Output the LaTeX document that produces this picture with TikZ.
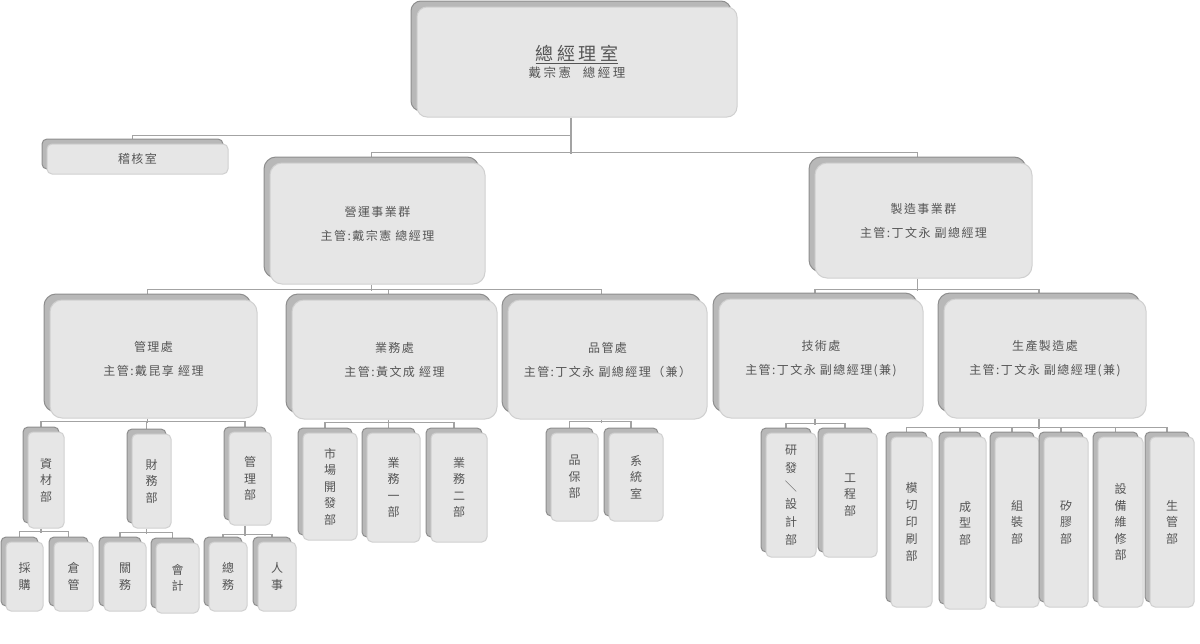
\documentclass[tikz,border=0pt]{standalone}
\usepackage{fontspec}
\setmainfont{Noto Sans CJK TC}
\newfontfamily\cjh[LetterSpace=12]{Noto Sans CJK TC}
\newfontfamily\cjt[LetterSpace=20]{Noto Sans CJK TC}
\usetikzlibrary{shadows,backgrounds}
\definecolor{backc}{HTML}{B8B8B8}
\definecolor{backd}{HTML}{8E8E8E}
\definecolor{frontc}{HTML}{E6E6E6}
\definecolor{frontd}{HTML}{D0D0D0}
\definecolor{linec}{HTML}{A3A3A3}
\definecolor{txt}{HTML}{555555}
\tikzset{
  base/.style={rectangle, fill=frontc, draw=frontd, line width=1pt, text=txt, inner sep=0pt, align=center},
  bigbox/.style={base, rounded corners=12pt,
    copy shadow={shadow xshift=-6pt, shadow yshift=6pt, fill=backc, draw=backd},
    font=\cjh\fontsize{12}{24}\selectfont},
  topbox/.style={base, rounded corners=10pt,
    copy shadow={shadow xshift=-6pt, shadow yshift=6pt, fill=backc, draw=backd}},
  midbox/.style={base, rounded corners=5pt,
    copy shadow={shadow xshift=-5pt, shadow yshift=5pt, fill=backc, draw=backd},
    font=\cjh\fontsize{12}{16}\selectfont},
  smallbox/.style={base, rounded corners=5pt,
    copy shadow={shadow xshift=-5pt, shadow yshift=5pt, fill=backc, draw=backd},
    font=\fontsize{12}{16.5}\selectfont},
  conn/.style={draw=linec, line width=1.3pt},
}
\begin{document}
\begin{tikzpicture}[x=1pt,y=-1pt]
\useasboundingbox (0,0) rectangle (1200,643);
% level 0
\node[topbox, minimum width=320pt, minimum height=110pt] (top) at (577,62)
  {{\cjt\fontsize{18}{22}\selectfont\underline{總經理室}}\\[3pt]{\cjt\fontsize{12.5}{14}\selectfont 戴宗憲\hspace{0.5em} 總經理}};
\node[midbox, minimum width=181pt, minimum height=30pt] (audit) at (137.5,159) {稽核室};
% level 1
\node[bigbox, minimum width=215pt, minimum height=121pt] (ops) at (377.5,223.5) {營運事業群\\主管:戴宗憲 總經理};
\node[bigbox, minimum width=217pt, minimum height=115pt] (mfg) at (923.5,220.5) {製造事業群\\主管:丁文永 副總經理};
% level 2
\node[bigbox, minimum width=207pt, minimum height=118pt] (adm) at (153.5,359) {管理處\\主管:戴昆享 經理};
\node[bigbox, minimum width=205pt, minimum height=119pt] (sales) at (394.5,359.5) {業務處\\主管:黃文成 經理};
\node[bigbox, minimum width=199pt, minimum height=119pt] (qa) at (607.5,359.5) {品管處\\主管:丁文永 副總經理（兼）};
\node[bigbox, minimum width=204pt, minimum height=119pt] (tech) at (821,358.5) {技術處\\主管:丁文永 副總經理(兼)};
\node[bigbox, minimum width=202pt, minimum height=119pt] (prod) at (1045,358.5) {生產製造處\\主管:丁文永 副總經理(兼)};
% level 3 under adm
\node[smallbox, minimum width=36pt, minimum height=96pt] (mat) at (46,480) {資\\材\\部};
\node[smallbox, minimum width=39pt, minimum height=94pt] (fin) at (151.5,481) {財\\務\\部};
\node[smallbox, minimum width=42pt, minimum height=93pt] (mgt) at (250,478.5) {管\\理\\部};
% level 4
\node[smallbox, minimum width=37pt, minimum height=69pt] (pur) at (24.5,576.5) {採\\購};
\node[smallbox, minimum width=39pt, minimum height=69pt] (whs) at (73.5,576.5) {倉\\管};
\node[smallbox, minimum width=42pt, minimum height=69pt] (cus) at (125,576.5) {關\\務};
\node[smallbox, minimum width=43pt, minimum height=70pt] (acc) at (177.5,578) {會\\計};
\node[smallbox, minimum width=38pt, minimum height=69pt] (gen) at (228,576.5) {總\\務};
\node[smallbox, minimum width=38pt, minimum height=69pt] (hr) at (277,576.5) {人\\事};
% under sales
\node[smallbox, minimum width=54pt, minimum height=107pt] (mkt) at (330,486.5) {市\\場\\開\\發\\部};
\node[smallbox, minimum width=53pt, minimum height=109pt] (s1) at (393.5,487.5) {業\\務\\一\\部};
\node[smallbox, minimum width=56pt, minimum height=109pt] (s2) at (459,487.5) {業\\務\\二\\部};
% under qa
\node[smallbox, minimum width=47pt, minimum height=88pt] (qad) at (574.5,477) {品\\保\\部};
\node[smallbox, minimum width=54pt, minimum height=88pt] (sys) at (636,477) {系\\統\\室};
% under tech
\node[smallbox, minimum width=50pt, minimum height=124pt, font=\fontsize{12}{18}\selectfont] (rd) at (791,495) {研\\發\\\raisebox{-0.1em}{\rotatebox[origin=c]{-90}{／}}\\設\\計\\部};
\node[smallbox, minimum width=54pt, minimum height=124pt] (eng) at (850,495) {工\\程\\部};
% under prod
\node[smallbox, minimum width=41pt, minimum height=170pt, font=\fontsize{12}{17}\selectfont] (die) at (911.5,522) {模\\切\\印\\刷\\部};
\node[smallbox, minimum width=42pt, minimum height=172pt] (mold) at (965,523) {成\\型\\部};
\node[smallbox, minimum width=44pt, minimum height=170pt] (asm) at (1017,522) {組\\裝\\部};
\node[smallbox, minimum width=44pt, minimum height=170pt] (sil) at (1066,522) {矽\\膠\\部};
\node[smallbox, minimum width=45pt, minimum height=170pt] (mnt) at (1120.5,522) {設\\備\\維\\修\\部};
\node[smallbox, minimum width=44pt, minimum height=170pt] (pc) at (1172,522) {生\\管\\部};
% connectors
\begin{scope}[on background layer]
\fill[white] (0,0) rectangle (1200,643);
\draw[conn] ([xshift=-6pt]top.south) -- ++(0,18) -| ([xshift=-5pt]audit.north);
\draw[conn] ([xshift=-6pt]top.south) -- ++(0,36);
\draw[conn] ([xshift=-6pt]ops.north) -- ++(0,-10) -| ([xshift=-6pt]mfg.north);
\draw[conn] ([xshift=-6pt]ops.south) -- ++(0,6);
\draw[conn] ([xshift=-6pt]adm.north) -- ++(0,-10) -| ([xshift=-6pt]qa.north);
\draw[conn] ([xshift=-6pt]sales.north) -- ++(0,-10);
\draw[conn] ([xshift=-6pt]mfg.south) -- ++(0,12);
\draw[conn] ([xshift=-6pt]tech.north) -- ++(0,-9) -| ([xshift=-6pt]prod.north);
% adm children
\draw[conn] ([xshift=-6pt]adm.south) -- ++(0,4);
\draw[conn] ([xshift=-5pt]mat.north) -- ++(0,-10) -| ([xshift=-5pt]mgt.north);
\draw[conn] ([xshift=-5pt]fin.north) -- ++(0,-12);
\draw[conn] ([xshift=-5pt]mat.south) -- ++(0,4);
\draw[conn] ([xshift=-5pt]pur.north) -- ++(0,-10) -| ([xshift=-5pt]whs.north);
\draw[conn] ([xshift=-5pt]fin.south) -- ++(0,5);
\draw[conn] ([xshift=-5pt]cus.north) -- ++(0,-9) -| ([xshift=-5pt]acc.north);
\draw[conn] ([xshift=-5pt]mgt.south) -- ++(0,10);
\draw[conn] ([xshift=-5pt]gen.north) -- ++(0,-7) -| ([xshift=-5pt]hr.north);
% sales children
\draw[conn] ([xshift=-6pt]sales.south) -- ++(0,4);
\draw[conn] ([xshift=-5pt]mkt.north) -- ++(0,-10) -| ([xshift=-5pt]s2.north);
\draw[conn] ([xshift=-5pt]s1.north) -- ++(0,-10);
% qa children
\draw[conn] ([xshift=-6pt]qa.south) -- ++(0,3);
\draw[conn] ([xshift=-5pt]qad.north) -- ++(0,-11) -| ([xshift=-5pt]sys.north);
% tech children
\draw[conn] ([xshift=-6pt]tech.south) -- ++(0,6);
\draw[conn] ([xshift=-5pt]rd.north) -- ++(0,-9) -| ([xshift=-5pt]eng.north);
% prod children
\draw[conn] ([xshift=-6pt]prod.south) -- ++(0,10);
\draw[conn] ([xshift=-5pt]die.north) -- ++(0,-9) -| ([xshift=-5pt]pc.north);
\draw[conn] ([xshift=-5pt]mold.north) -- ++(0,-9);
\draw[conn] ([xshift=-5pt]asm.north) -- ++(0,-9);
\draw[conn] ([xshift=-5pt]sil.north) -- ++(0,-9);
\draw[conn] ([xshift=-5pt]mnt.north) -- ++(0,-9);
\end{scope}
\end{tikzpicture}
\end{document}
